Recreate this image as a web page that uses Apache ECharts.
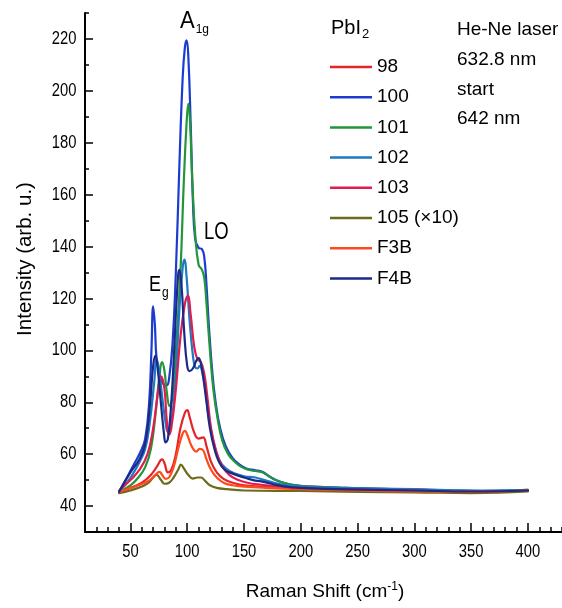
<!DOCTYPE html>
<html>
<head>
<meta charset="utf-8">
<script src="https://cdn.jsdelivr.net/npm/echarts@6/dist/echarts.min.js"></script>
<style>
html,body{margin:0;padding:0;background:#fff}
#chart{width:562px;height:608px}
</style>
</head>
<body>
<div id="chart"></div>
<script>
// Raman spectra of PbI2 samples: [shift (cm-1), intensity (arb. u.)]
const s98 = [[40,45.5],[50,47],[60,49],[68,52],[73,55],[78,58],[80,56.5],[83,53],[86,54],[90,60],[94,70],[98,76],[100,77],[102,74.5],[106,68.5],[110,66],[114,66.5],[117,63],[121,57],[126,53],[132,50.5],[140,49],[150,48],[165,47.5],[185,47],[210,46.5],[260,46],[320,45.6],[360,45.6],[400,46]];
const s100 = [[40,45.5],[47,51],[53,56],[59,61],[63,66],[66.5,80],[68.5,100],[70,117],[71.5,110],[73,97],[76,90],[79,87],[82,86.5],[84,89],[87,102],[90,130],[93,170],[96,205],[98,217],[99.5,219.5],[101,213],[103,188],[105,158],[107,143],[110,139.5],[113,139],[115,136],[117,125],[119,110],[122,92],[125,80],[129,70],[134,63],[140,58.5],[146,56],[152,54.5],[160,53.8],[166,53.2],[172,51.5],[178,50],[186,48.8],[196,48],[210,47.5],[240,47],[280,46.5],[330,46],[360,45.8],[400,46.2]];
const s101 = [[40,45.5],[50,48],[57,51],[63,55],[68,62],[72,75],[75,88],[78,95.5],[80,92],[82,84],[84.5,78.5],[87,82],[90,100],[94,130],[97,165],[99.5,188],[101,195],[102.5,188],[104.5,165],[107,145],[110,133],[113,131],[115,128],[117,118],[120,100],[123,85],[127,73],[131,65],[136,60],[142,57],[148,55],[154,54],[160,53.5],[166,53],[172,51.5],[178,50],[185,49],[195,48],[210,47.5],[240,47],[280,46.5],[330,46],[360,45.7],[400,46.2]];
const s102 = [[40,45.5],[47,49],[53,53],[58,57],[63,62],[67,72],[71,88],[73,96.5],[75,93],[78,82],[81,72],[83,68.5],[86,72],[90,90],[93,115],[96,132],[97.5,135],[99.5,128],[102,112],[105,98],[107,93.5],[109,93],[111,94],[113,92],[116,85],[119,74],[123,65],[128,58],[134,54.5],[142,52.5],[150,51.5],[160,51],[168,50],[176,49],[188,48],[200,47.5],[230,47],[300,46.5],[350,46],[400,46]];
const s103 = [[40,46],[50,50],[58,54],[65,60],[70,70],[74,83],[77,90],[80,85],[82,73],[84,67.5],[86,70],[90,85],[94,105],[98,118],[100.5,121],[103,114],[106,102],[109,96.5],[112,95.5],[115,91],[118,81],[121,70],[125,62],[130,56],[137,52],[145,50],[155,48.8],[165,48.2],[180,47.6],[200,47],[230,46.5],[300,46],[350,45.6],[400,46]];
const s105 = [[40,45],[50,46],[60,47.5],[66,49],[70,51],[73,52],[77,50],[80,48.6],[84,49],[88,51],[92,54],[94.5,56],[97,54.5],[101,52],[105,50.6],[109,51],[112,51],[116,49.6],[120,48],[126,47],[135,46.5],[150,46],[200,45.8],[250,45.5],[300,45.3],[350,45],[400,45.6]];
const sF3B = [[40,45.5],[50,47],[60,48.5],[67,50],[72,52],[75.5,53.2],[78,52],[81,50.5],[84,51],[88,55],[92,62],[96,68],[98,69],[100,67.5],[104,63],[108,61],[111,62],[114,61.5],[117,58],[121,54],[126,51],[132,49],[140,48],[150,47.5],[170,47],[200,46.5],[250,46],[300,45.6],[350,45.5],[400,46]];
const sF4B = [[40,45.5],[50,53],[58,58],[63,64],[67,78],[70,94],[72,98],[74,93],[77,79],[79.5,68],[81,64.5],[83,66],[86,80],[88.5,100],[91,122],[93,131],[95,125],[97.5,106],[100,94],[102,92],[105,93],[108,96],[110,97],[112,95],[114,90],[117,80],[120,70],[124,62],[128,57],[133,54],[140,52.5],[150,51],[158,50],[166,49.4],[175,48.5],[185,47.6],[200,47],[230,46.5],[300,46],[350,45.6],[400,46]];

const seriesNames = ['98', '100', '101', '102', '103', '105 (\u00d710)', 'F3B', 'F4B'];
const seriesData = [s98, s100, s101, s102, s103, s105, sF3B, sF4B];
const seriesColors = ['#e4232a', '#1c3ccf', '#23953a', '#1e78c2', '#e01e4e', '#6d6a1c', '#ff4a1c', '#1b2a86'];

// axis tick labels
const xTickValues = [50, 100, 150, 200, 250, 300, 350, 400];
const yTickValues = [40, 60, 80, 100, 120, 140, 160, 180, 200, 220];

const xMinor = [];
for (let v = 20; v <= 430; v += 10) xMinor.push(v);
const yMinor = [];
for (let v = 30; v <= 230; v += 10) yMinor.push(v);

const FONT = "'Liberation Sans', Arial, Helvetica, sans-serif";
const INK = '#000';
const chart = echarts.init(document.getElementById('chart'), null, {renderer: 'canvas'});

const graphics = [
  {
    type: 'text', position: [25, 259], rotation: Math.PI / 2,
    style: {text: 'Intensity (arb. u.)', fontFamily: FONT, fontSize: 20.5, fill: INK, align: 'center', verticalAlign: 'middle'}
  },
  {
    type: 'text', position: [325, 592],
    style: {
      text: 'Raman Shift (cm{sup|-1})',
      rich: {sup: {fontSize: 12, verticalAlign: 'top', padding: [0, 0, 10, 0], fontFamily: FONT, fill: INK}},
      fontFamily: FONT, fontSize: 19, fill: INK, align: 'center', verticalAlign: 'middle'
    }
  },
  {
    type: 'text', position: [331, 28],
    style: {
      text: 'PbI{sub|2}',
      rich: {sub: {fontSize: 13, padding: [12, 0, 0, 1], fontFamily: FONT, fill: INK}},
      fontFamily: FONT, fontSize: 20, fill: INK, align: 'left', verticalAlign: 'middle'
    }
  },
  {type: 'text', position: [457, 30], style: {text: 'He-Ne laser', fontFamily: FONT, fontSize: 19, fill: INK, verticalAlign: 'middle'}},
  {type: 'text', position: [457, 60], style: {text: '632.8 nm', fontFamily: FONT, fontSize: 19, fill: INK, verticalAlign: 'middle'}},
  {type: 'text', position: [457, 90], style: {text: 'start', fontFamily: FONT, fontSize: 19, fill: INK, verticalAlign: 'middle'}},
  {type: 'text', position: [457, 119], style: {text: '642 nm', fontFamily: FONT, fontSize: 19, fill: INK, verticalAlign: 'middle'}},
  {
    type: 'text', position: [180, 21], scaleY: 1.12,
    style: {
      text: 'A{sub|1g}',
      rich: {sub: {fontSize: 12, padding: [14, 0, 0, 1], fontFamily: FONT, fill: INK}},
      fontFamily: FONT, fontSize: 22, fill: INK, align: 'left', verticalAlign: 'middle'
    }
  },
  {type: 'text', position: [204, 233], scaleY: 1.25, style: {text: 'LO', fontFamily: FONT, fontSize: 18.5, fill: INK, verticalAlign: 'middle'}},
  {
    type: 'text', position: [149, 285], scaleY: 1.18,
    style: {
      text: 'E{sub|g}',
      rich: {sub: {fontSize: 12, padding: [14, 0, 0, 1], fontFamily: FONT, fill: INK}},
      fontFamily: FONT, fontSize: 18, fill: INK, align: 'left', verticalAlign: 'middle'
    }
  }
];

const option = {
  backgroundColor: '#ffffff',
  animation: false,
  grid: {left: 85, right: 0, top: 13, bottom: 76, containLabel: false},
  legend: {
    data: seriesNames,
    orient: 'vertical',
    left: 330,
    top: 56,
    padding: 0,
    icon: 'rect',
    itemWidth: 42,
    itemHeight: 2.5,
    itemGap: 8.2,
    textStyle: {fontFamily: FONT, fontSize: 19, color: INK, lineHeight: 22},
    selectedMode: false
  },
  xAxis: [
    {
      type: 'value', min: 10, max: 430, position: 'bottom',
      axisLine: {show: true, onZero: false, lineStyle: {color: '#000', width: 2}},
      axisTick: {show: true, inside: true, length: 9, lineStyle: {color: '#000', width: 1.5}, customValues: xTickValues},
      axisLabel: {show: false},
      splitLine: {show: false}
    },
    {
      type: 'value', min: 10, max: 430, position: 'bottom',
      axisLine: {show: false},
      axisTick: {show: true, inside: true, length: 5, lineStyle: {color: '#000', width: 1.5}, customValues: xMinor},
      axisLabel: {show: false},
      splitLine: {show: false}
    }
  ],
  yAxis: [
    {
      type: 'value', min: 30, max: 230, position: 'left',
      axisLine: {show: true, onZero: false, lineStyle: {color: '#000', width: 2}},
      axisTick: {show: true, inside: true, length: 8, lineStyle: {color: '#000', width: 1.5}, customValues: yTickValues},
      axisLabel: {show: false},
      splitLine: {show: false}
    },
    {
      type: 'value', min: 30, max: 230, position: 'left',
      axisLine: {show: false},
      axisTick: {show: true, inside: true, length: 4, lineStyle: {color: '#000', width: 1.5}, customValues: yMinor},
      axisLabel: {show: false},
      splitLine: {show: false}
    }
  ],
  series: seriesNames.map((name, i) => ({
    name: name,
    type: 'line',
    data: seriesData[i],
    xAxisIndex: 0,
    yAxisIndex: 0,
    showSymbol: false,
    smooth: 0.45,
    color: seriesColors[i],
    lineStyle: {width: 2.2, color: seriesColors[i], join: 'round', cap: 'round'},
    z: 3
  })),
  graphic: graphics
};

chart.setOption(option);

// Tick labels in a condensed face, placed at the axis positions given by the chart's own scales
const tickLabelStyle = {fontFamily: FONT, fontSize: 18.5, fill: INK, verticalAlign: 'middle'};
const tickLabels = [];
xTickValues.forEach(v => {
  const p = chart.convertToPixel({gridIndex: 0}, [v, 30]);
  tickLabels.push({
    type: 'text', x: p[0], y: p[1] + 20, scaleX: 0.8,
    style: Object.assign({text: String(v), align: 'center'}, tickLabelStyle)
  });
});
yTickValues.forEach(v => {
  const p = chart.convertToPixel({gridIndex: 0}, [10, v]);
  tickLabels.push({
    type: 'text', x: p[0] - 8.5, y: p[1], scaleX: 0.8,
    style: Object.assign({text: String(v), align: 'right'}, tickLabelStyle)
  });
});
chart.setOption({graphic: graphics.concat(tickLabels)});
</script>
</body>
</html>
